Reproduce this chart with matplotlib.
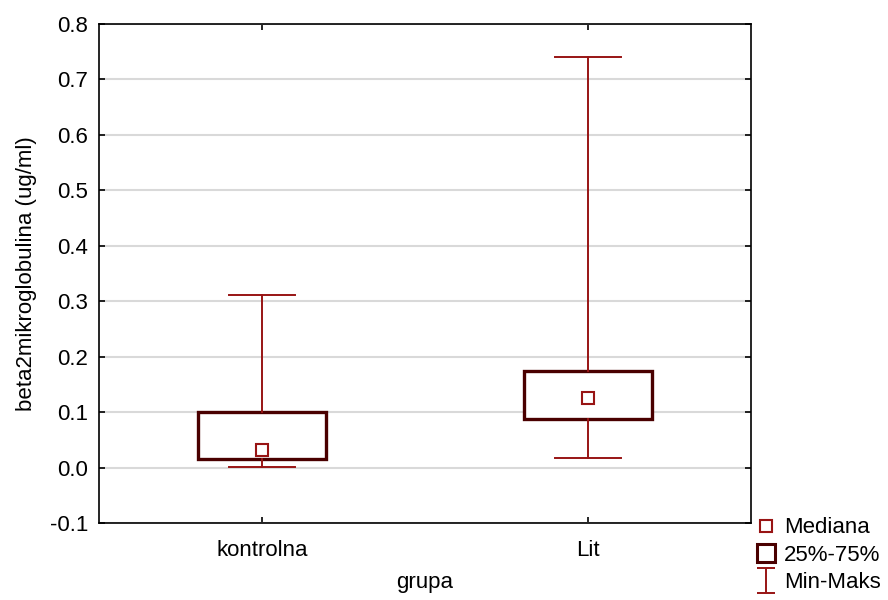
import matplotlib
matplotlib.use("Agg")
import matplotlib.pyplot as plt
from matplotlib.lines import Line2D
from matplotlib.path import Path

plt.rcParams["font.family"] = ["Liberation Sans", "DejaVu Sans"]
plt.rcParams["font.size"] = 16

# values
groups = ["kontrolna", "Lit"]
mins = [0.001, 0.017]
q1 = [0.015, 0.088]
medians = [0.032, 0.126]
q3 = [0.101, 0.175]
maxs = [0.312, 0.740]
yticks = [-0.1, 0.0, 0.1, 0.2, 0.3, 0.4, 0.5, 0.6, 0.7, 0.8]

whisk_col = "#981414"
box_col = "#4a0000"

stats = []
for i, g in enumerate(groups):
    stats.append({
        "label": g, "whislo": mins[i], "q1": q1[i], "med": medians[i],
        "mean": medians[i], "q3": q3[i], "whishi": maxs[i], "fliers": [],
    })

fig = plt.figure(figsize=(8.88, 6), dpi=100)
ax = fig.add_axes([99 / 888, 1 - 523 / 600, 652 / 888, 499 / 600])

ax.bxp(
    stats, positions=[1, 2], widths=0.395, capwidths=0.2,
    patch_artist=True, showmeans=True, showfliers=False,
    boxprops=dict(facecolor="white", edgecolor=box_col, linewidth=2.4),
    whiskerprops=dict(color=whisk_col, linewidth=1.4),
    capprops=dict(color=whisk_col, linewidth=1.4),
    medianprops=dict(linewidth=0),
    meanprops=dict(marker="s", markersize=9, markerfacecolor="white",
                   markeredgecolor=whisk_col, markeredgewidth=1.5),
    zorder=3,
)

ax.set_xlim(0.5, 2.5)
ax.set_ylim(-0.1, 0.8)
ax.set_yticks(yticks)
ax.set_yticklabels([f"{v:.1f}" for v in yticks])
ax.set_xticks([1, 2])
ax.set_xticklabels(groups)
ax.yaxis.grid(True, color="#d9d9d9", linewidth=1.5, zorder=0)
ax.set_axisbelow(True)
ax.tick_params(axis="both", direction="in", top=True, right=True,
               length=4, width=1.2, colors="black")
ax.tick_params(axis="x", pad=12)
ax.tick_params(axis="y", pad=8)
for s in ax.spines.values():
    s.set_linewidth(1.2)

ax.set_xlabel("grupa", labelpad=8)
ax.set_ylabel("beta2mikroglobulina (ug/ml)", labelpad=9)

# I-shaped marker for the min-max legend entry
ibar = Path([(-0.36, 0.5), (0.36, 0.5), (0, 0.5), (0, -0.5), (-0.36, -0.5), (0.36, -0.5)],
            [Path.MOVETO, Path.LINETO, Path.MOVETO, Path.LINETO, Path.MOVETO, Path.LINETO])
handles = [
    Line2D([], [], linestyle="none", marker="s", markersize=8,
           markerfacecolor="white", markeredgecolor=whisk_col, markeredgewidth=1.5),
    Line2D([], [], linestyle="none", marker="s", markersize=13.5,
           markerfacecolor="white", markeredgecolor=box_col, markeredgewidth=2.2),
    Line2D([], [], linestyle="none", marker=ibar, markersize=18,
           markerfacecolor="none", markeredgecolor=whisk_col, markeredgewidth=1.4),
]
fig.legend(handles, ["Mediana", "25%-75%", "Min-Maks"], loc="lower left",
           bbox_to_anchor=(744 / 888, -4 / 600), frameon=False, handlelength=1.0,
           handletextpad=0.3, labelspacing=0.28, borderpad=0.0,
           fontsize=16)

fig.savefig("out.png", dpi=100)
